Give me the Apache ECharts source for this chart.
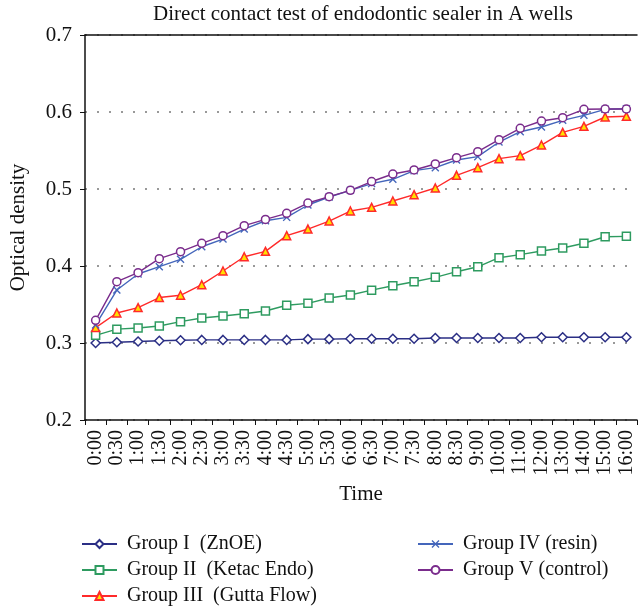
<!DOCTYPE html>
<html>
<head>
<meta charset="utf-8">
<script src="https://cdn.jsdelivr.net/npm/echarts@6/dist/echarts.min.js"></script>
<style>html,body{margin:0;padding:0;background:#fff;}#c{width:638px;height:609px;}</style>
</head>
<body>
<div id="c"></div>
<script>
const categories = ['0:00','0:30','1:00','1:30','2:00','2:30','3:00','3:30','4:00','4:30','5:00','5:30','6:00','6:30','7:00','7:30','8:00','8:30','9:00','10:00','11:00','12:00','13:00','14:00','15:00','16:00'];
const yTicks = [0.2, 0.3, 0.4, 0.5, 0.6, 0.7];
const seriesNames = ['Group I  (ZnOE)', 'Group II  (Ketac Endo)', 'Group III  (Gutta Flow)', 'Group IV (resin)', 'Group V (control)'];
const groupI = [0.300,0.301,0.302,0.303,0.3035,0.304,0.304,0.304,0.304,0.304,0.305,0.305,0.3055,0.3055,0.3056,0.3056,0.3065,0.3065,0.3065,0.3065,0.3065,0.3074,0.3074,0.3074,0.3074,0.3074];
const groupII = [0.310,0.318,0.3195,0.322,0.3277,0.3325,0.335,0.338,0.3416,0.349,0.3515,0.3584,0.3623,0.3686,0.3744,0.3796,0.3853,0.3926,0.399,0.4108,0.4147,0.4195,0.4234,0.4295,0.438,0.4385];
const groupIII = [0.320,0.339,0.346,0.359,0.362,0.3757,0.3935,0.412,0.419,0.4394,0.448,0.4584,0.4714,0.4762,0.4844,0.4926,0.5013,0.5178,0.5277,0.5394,0.5433,0.5571,0.5736,0.5814,0.5935,0.5944];
const groupIV = [0.3234,0.3688,0.3896,0.3991,0.4087,0.425,0.435,0.448,0.4588,0.4632,0.4792,0.4896,0.4983,0.507,0.5126,0.5238,0.5277,0.5377,0.542,0.561,0.5744,0.5805,0.5892,0.5957,0.6035,0.6043];
const groupV = [0.3294,0.3796,0.3913,0.4095,0.4186,0.4294,0.4394,0.4524,0.4605,0.4684,0.4818,0.49,0.4983,0.5097,0.5195,0.5247,0.5325,0.5407,0.5485,0.564,0.5788,0.5883,0.5926,0.6035,0.6039,0.6039];

const FONT = "'Liberation Serif', 'DejaVu Serif', serif";
const xSym = 'path://M0,1.2L1.2,0L5,3.8L8.8,0L10,1.2L6.2,5L10,8.8L8.8,10L5,6.2L1.2,10L0,8.8L3.8,5Z';

function mk(name, data, color, symbol, size, fill, border) {
  return {
    name: name, type: 'line', data: data,
    symbol: symbol, symbolSize: size,
    lineStyle: { color: color, width: 1.4 },
    itemStyle: { color: fill, borderColor: border, borderWidth: border ? 1.5 : 0 },
    emphasis: { disabled: true },
    animation: false, z: 3
  };
}

const legendCommon = {
  orient: 'vertical', top: 529, height: 90,
  itemWidth: 35, itemHeight: 10, itemGap: 6,
  textStyle: { fontFamily: FONT, fontSize: 20, color: '#111', padding: [0, 0, 0, 5] }
};

const chart = echarts.init(document.getElementById('c'));
chart.setOption({
  backgroundColor: '#fff',
  animation: false,
  title: {
    text: 'Direct contact test of endodontic sealer in A wells',
    left: 358, top: -1, textAlign: 'center',
    textStyle: { fontFamily: FONT, fontSize: 21, fontWeight: 'normal', color: '#111' }
  },
  grid: { left: 81, right: 1, top: 35, bottom: 189, containLabel: false },
  legend: [
    Object.assign({ data: seriesNames.slice(0, 3), left: 76 }, legendCommon),
    Object.assign({ data: seriesNames.slice(3), left: 412 }, legendCommon)
  ],
  xAxis: [
    {
      type: 'category', data: categories, boundaryGap: true,
      name: 'Time', nameLocation: 'middle', nameGap: 64,
      nameTextStyle: { fontFamily: FONT, fontSize: 21, color: '#111' },
      axisLine: { lineStyle: { color: '#111', width: 1.5 } },
      axisTick: { show: true, inside: false, length: 5, lineStyle: { color: '#111' } },
      axisLabel: { rotate: 90, margin: 10, interval: 0, fontFamily: FONT, fontSize: 20, color: '#111' },
      splitLine: { show: false }
    },
    {
      type: 'category', data: categories, position: 'top', boundaryGap: true,
      axisLine: { lineStyle: { color: '#111', width: 1.5 } },
      axisTick: { show: false }, axisLabel: { show: false }, splitLine: { show: false }
    }
  ],
  yAxis: {
    type: 'value', min: yTicks[0], max: yTicks[yTicks.length - 1], interval: 0.1,
    name: 'Optical density', nameLocation: 'middle', nameGap: 56,
    nameTextStyle: { fontFamily: FONT, fontSize: 21, color: '#111' },
    axisLine: { show: true, lineStyle: { color: '#111', width: 1.5 } },
    axisTick: { show: true, inside: false, length: 5, lineStyle: { color: '#111' } },
    axisLabel: { margin: 13, fontFamily: FONT, fontSize: 21, color: '#111', formatter: v => v.toFixed(1) },
    splitLine: { show: true, lineStyle: { color: '#999', width: 2, type: [2, 10] } }
  },
  series: [
    mk(seriesNames[0], groupI, '#2b2f85', 'diamond', 9, '#fff', '#2b2f85'),
    mk(seriesNames[1], groupII, '#2e9b60', 'rect', 8, '#fff', '#2e9b60'),
    mk(seriesNames[2], groupIII, '#ff2a2a', 'triangle', 8, '#ffe000', '#ff2a2a'),
    mk(seriesNames[3], groupIV, '#4466bb', xSym, 8, '#4466bb', null),
    mk(seriesNames[4], groupV, '#7a2c8c', 'circle', 8, '#fff', '#7a2c8c')
  ]
});
</script>
</body>
</html>
